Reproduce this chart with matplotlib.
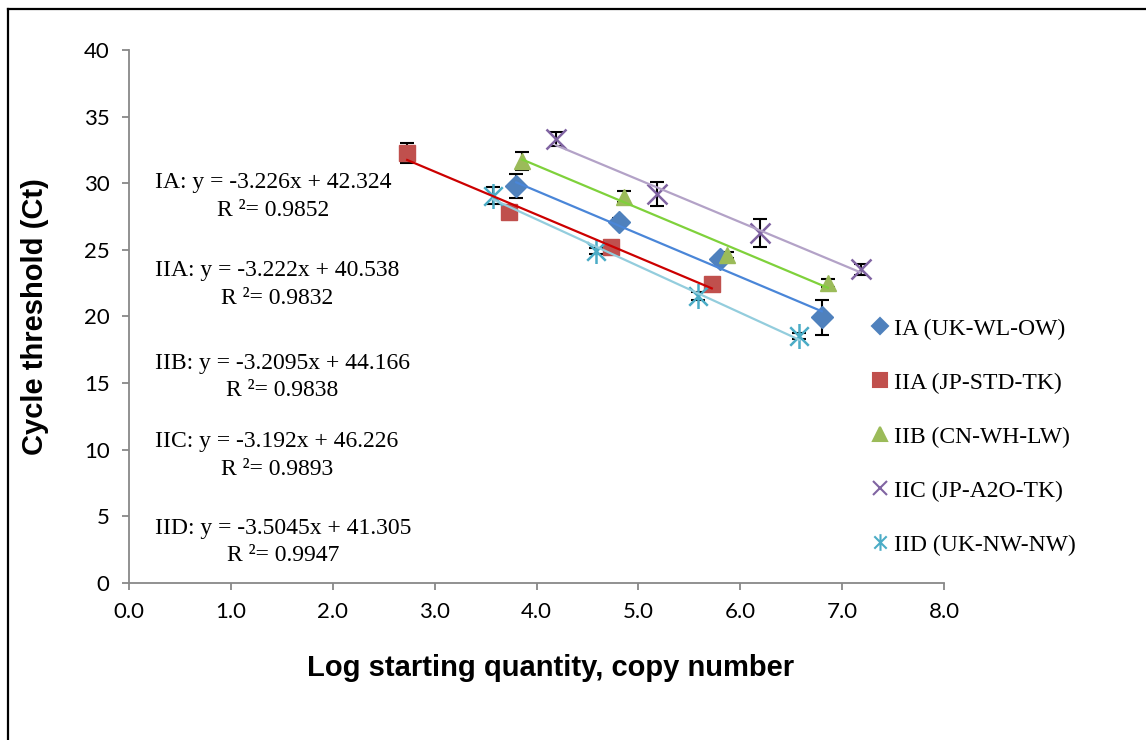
import numpy as np
import matplotlib.pyplot as plt
from matplotlib.lines import Line2D
from matplotlib.path import Path

# Log starting quantity and mean Ct for each standard curve
ia_x = [3.80, 4.81, 5.80, 6.80]
ia_y = [29.79, 27.09, 24.29, 19.94]
ia_err = [0.88, 0.30, 0.25, 1.33]

iia_x = [2.73, 3.73, 4.73, 5.72]
iia_y = [32.27, 27.86, 25.24, 22.42]
iia_err = [0.75, 0.20, 0.20, 0.20]

iib_x = [3.86, 4.86, 5.87, 6.86]
iib_y = [31.67, 28.99, 24.61, 22.49]
iib_err = [0.66, 0.40, 0.25, 0.30]

iic_x = [4.19, 5.18, 6.19, 7.18]
iic_y = [33.30, 29.19, 26.29, 23.54]
iic_err = [0.53, 0.89, 1.06, 0.40]

iid_x = [3.57, 4.58, 5.58, 6.58]
iid_y = [29.07, 24.92, 21.54, 18.54]
iid_err = [0.63, 0.25, 0.30, 0.20]

names = ['IA (UK-WL-OW)', 'IIA (JP-STD-TK)', 'IIB (CN-WH-LW)',
         'IIC (JP-A2O-TK)', 'IID (UK-NW-NW)']
short = ['IA', 'IIA', 'IIB', 'IIC', 'IID']
slopes = [-3.226, -3.222, -3.2095, -3.192, -3.5045]
intercepts = [42.324, 40.538, 44.166, 46.226, 41.305]
r2 = [0.9852, 0.9832, 0.9838, 0.9893, 0.9947]

xs = [ia_x, iia_x, iib_x, iic_x, iid_x]
ys = [ia_y, iia_y, iib_y, iic_y, iid_y]
errs = [ia_err, iia_err, iib_err, iic_err, iid_err]

# excel-ish asterisk: an X with a vertical stroke
asterisk = Path([(-1, -1), (1, 1), (-1, 1), (1, -1), (0, -1.35), (0, 1.35)],
                [Path.MOVETO, Path.LINETO] * 3)

marker_col = ['#4F81BD', '#C0504D', '#9BBB59', '#8064A2', '#4BACC6']
line_col = ['#4A86D8', '#CC0000', '#7FD13B', '#B3A2C7', '#93CDDD']
markers = ['D', 's', '^', 'x', asterisk]
msizes = [11.5, 11.5, 12, 15, 18]
leg_sizes = [8, 10, 10, 10, 12]
filled = [True, True, True, False, False]

fig = plt.figure(figsize=(11.46, 7.4), dpi=100)
ax = fig.add_axes([0.1126, 0.2122, 0.7112, 0.7203])

for i in range(5):
    ax.errorbar(xs[i], ys[i], yerr=errs[i], fmt='none', ecolor='black',
                elinewidth=1.5, capsize=5, capthick=1.5, zorder=2)
    if filled[i]:
        ax.plot(xs[i], ys[i], linestyle='none', marker=markers[i], ms=msizes[i],
                color=marker_col[i], markeredgecolor=marker_col[i], zorder=3)
    else:
        ax.plot(xs[i], ys[i], linestyle='none', marker=markers[i], ms=msizes[i],
                color=marker_col[i], markeredgewidth=1.8, zorder=3)
    fx = np.array([min(xs[i]), max(xs[i])])
    ax.plot(fx, slopes[i] * fx + intercepts[i], color=line_col[i], lw=1.6, zorder=4)

# trendline equations
eq_y = [29.0, 22.4, 15.46, 9.57, 3.08]
for i in range(5):
    txt = '%s: y = %gx + %g\nR \u00b2= %.4f' % (short[i], slopes[i], intercepts[i], r2[i])
    ax.text(0.255, eq_y[i], txt, ha='left', va='center', multialignment='center',
            fontsize=17, family='Liberation Serif', linespacing=1.4)

ax.set_xlim(0, 8)
ax.set_ylim(0, 40)
ax.set_xticks(np.arange(0, 8.1, 1.0))
ax.set_xticklabels(['%.1f' % v for v in np.arange(0, 8.1, 1.0)])
ax.set_yticks(range(0, 41, 5))
for s in ['top', 'right']:
    ax.spines[s].set_visible(False)
for s in ['left', 'bottom']:
    ax.spines[s].set_color('#888888')
    ax.spines[s].set_linewidth(1.3)
ax.tick_params(axis='both', direction='out', length=5, width=1.3, color='#888888',
               labelsize=16)
ax.tick_params(axis='y', pad=9)
ax.tick_params(axis='x', pad=9)
for lab in ax.get_xticklabels() + ax.get_yticklabels():
    lab.set_family('Lato')

ax.set_xlabel('Log starting quantity, copy number', fontsize=21, fontweight='bold',
              family='Liberation Sans', va='center')
ax.xaxis.set_label_coords(0.517, -0.159)
ax.set_ylabel('Cycle threshold (Ct)', fontsize=21, fontweight='bold',
              family='Liberation Sans', va='center')
ax.yaxis.set_label_coords(-0.115, 0.5)

handles = []
for i in range(5):
    handles.append(Line2D([], [], linestyle='none', marker=markers[i],
                          ms=leg_sizes[i], color=marker_col[i],
                          markeredgewidth=1.5))
fig.legend(handles, names, loc='upper left', bbox_to_anchor=(0.751, 0.586),
           frameon=False, prop={'family': 'Liberation Serif', 'size': 17},
           labelspacing=1.375, handlelength=0.6, handletextpad=0.3, borderpad=0)

# outer chart-area border (cut off at right and bottom)
fig.add_artist(Line2D([8 / 1146, 8 / 1146], [1 - 9 / 740, 0], color='black', lw=1.6))
fig.add_artist(Line2D([8 / 1146, 1], [1 - 9 / 740, 1 - 9 / 740], color='black', lw=1.6))

fig.savefig('out.png', dpi=100)
